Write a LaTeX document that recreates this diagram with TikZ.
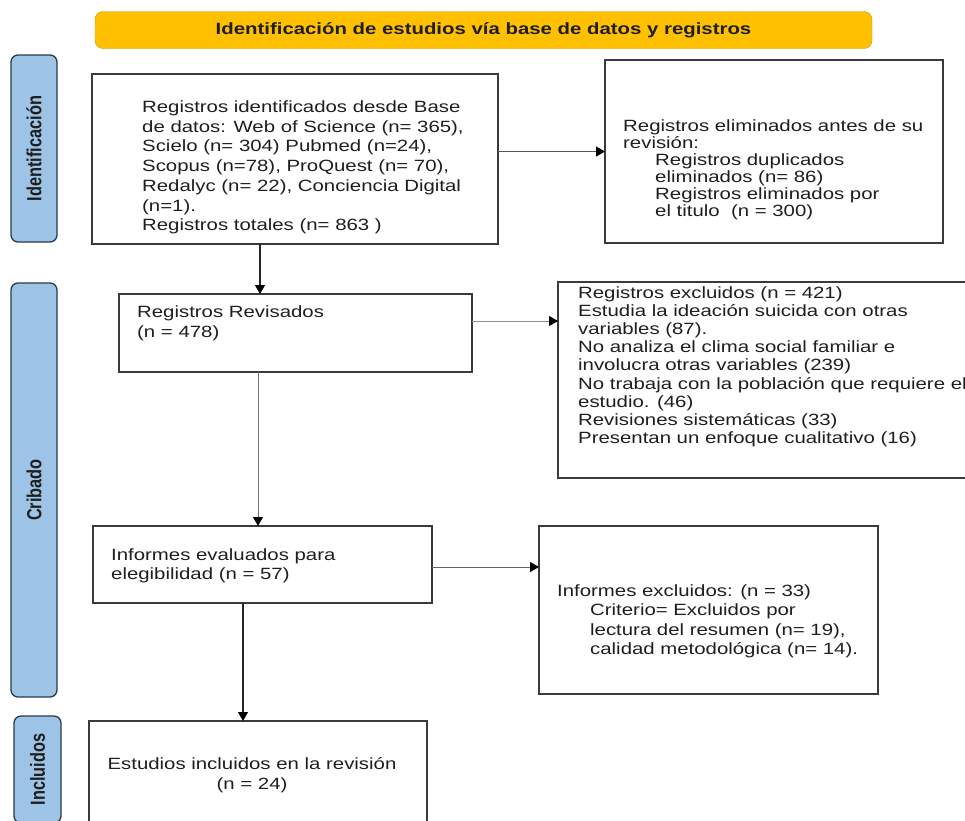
\documentclass[tikz,border=0pt]{standalone}
\usepackage{fontspec}
\setmainfont{Liberation Sans}[FakeStretch=1.25]
\newfontfamily\sidefont{Liberation Sans}[FakeStretch=0.8]
\usetikzlibrary{arrows.meta, calc}
\definecolor{bannergold}{HTML}{FFC000}
\definecolor{bannerline}{HTML}{C99700}
\definecolor{sideblue}{HTML}{9DC3E6}
\definecolor{sideline}{HTML}{2B3A48}
\definecolor{boxline}{HTML}{3A3A3A}
\definecolor{inkgray}{HTML}{1E1E1E}
\tikzset{
  box/.style={draw=boxline, line width=1.2pt, anchor=north west, inner sep=0pt, outer sep=0pt},
  txt/.style={anchor=north west, inner sep=0pt, align=left, text=inkgray, font=\fontsize{16.3}{#1}\selectfont},
  txt/.default=19.7,
  phase/.style={draw=sideline, line width=1.3pt, fill=sideblue, rounded corners=7pt, rotate=90, inner sep=0pt, text=inkgray, font=\sidefont\bfseries\fontsize{20.4}{24}\selectfont},
  pto/.style={-{Triangle[length=9pt,width=10pt,color=black]}, line width=1.2pt, draw=black!85},
  greypto/.style={pto, line width=1pt, draw=#1},
  greypto/.default=black!50
}

\begin{document}
\begin{tikzpicture}[x=1pt, y=1pt]
  \useasboundingbox (0,0) rectangle (965,-820);

  \node[draw=bannerline, fill=bannergold, rounded corners=8pt, minimum width=777, minimum height=37, text=inkgray, font=\bfseries\fontsize{16.3}{19}\selectfont] (banner) at (483.5,-30) {Identificación de estudios vía base de datos y registros};

  % phases on the left
  \node[phase, minimum width=187, minimum height=46] (phident) at (34,-148.5) {Identificación};
  \node[phase, minimum width=414, minimum height=46] (phscreen) at (34,-490) {Cribado};
  \node[phase, minimum width=107, minimum height=47] (phincl) at (37.5,-769.5) {Incluidos};

  % boxes
  \node[box, minimum width=406, minimum height=170] (ident) at (92,-74) {};
  \node[txt] (identtxt) at ($(ident.north west)+(50,-26.5)$) {Registros identificados desde Base\\
    de datos: Web of Science (n= 365),\\
    Scielo (n= 304) Pubmed (n=24),\\
    Scopus (n=78), ProQuest (n= 70),\\
    Redalyc (n= 22), Conciencia Digital\\
    (n=1).\\
    Registros totales (n= 863 )};

  \node[box, minimum width=338, minimum height=183] (removed) at (605,-60) {};
  \node[txt=17] (removedtxt) at ($(removed.north west)+(18,-59.5)$) {Registros eliminados antes de su\\
    revisión:\\
    \hspace*{32pt}Registros duplicados\\
    \hspace*{32pt}eliminados (n= 86)\\
    \hspace*{32pt}Registros eliminados por\\
    \hspace*{32pt}el titulo\ \ (n = 300)};

  \node[box, minimum width=353, minimum height=78] (revised) at (119,-294) {};
  \node[txt=20] (revisedtxt) at ($(revised.north west)+(18,-11.5)$) {Registros Revisados\\(n = 478)};

  \node[box, minimum width=420, minimum height=196] (excluded) at (558,-282) {};
  \node[txt=18.1] (excludedtxt) at ($(excluded.north west)+(20,-4.5)$) {Registros excluidos (n = 421)\\
    Estudia la ideación suicida con otras\\
    variables (87).\\
    No analiza el clima social familiar e\\
    involucra otras variables (239)\\
    No trabaja con la población que requiere el\\
    estudio. (46)\\
    Revisiones sistemáticas (33)\\
    Presentan un enfoque cualitativo (16)};

  \node[box, minimum width=339, minimum height=77] (assessed) at (93,-526) {};
  \node[txt=19] (assessedtxt) at ($(assessed.north west)+(18,-22.5)$) {Informes evaluados para\\elegibilidad (n = 57)};

  \node[box, minimum width=339, minimum height=168] (reportsexcl) at (539,-526) {};
  \node[txt=19.4] (reportsexcltxt) at ($(reportsexcl.north west)+(18,-58.5)$) {Informes excluidos: (n = 33)\\
    \hspace*{33pt}Criterio= Excluidos por\\
    \hspace*{33pt}lectura del resumen (n= 19),\\
    \hspace*{33pt}calidad metodológica (n= 14).};

  \node[box, minimum width=338, minimum height=110] (included) at (89,-721) {};
  \node[txt=20, anchor=north, align=center] (includedtxt) at ($(included.north)+(-6,-36.5)$) {Estudios incluidos en la revisión\\(n = 24)};

  % connectors
  \draw[greypto=black!65] (ident.east |- removed.west) -- (removed.west);
  \draw[pto] ([xshift=-35]ident.south) -- ([xshift=-35]ident.south |- revised.north);
  \draw[greypto=black!45] ([yshift=12]revised.east) -- ([yshift=12]revised.east -| excluded.west);
  \draw[greypto=black!55] ([xshift=-37.5]revised.south) -- ([xshift=-37.5]revised.south |- assessed.north);
  \draw[greypto=black!60] ([yshift=-2.5]assessed.east) -- ([yshift=-2.5]assessed.east -| reportsexcl.west);
  \draw[pto] ([xshift=-19.5]assessed.south) -- ([xshift=-19.5]assessed.south |- included.north);
\end{tikzpicture}
\end{document}
